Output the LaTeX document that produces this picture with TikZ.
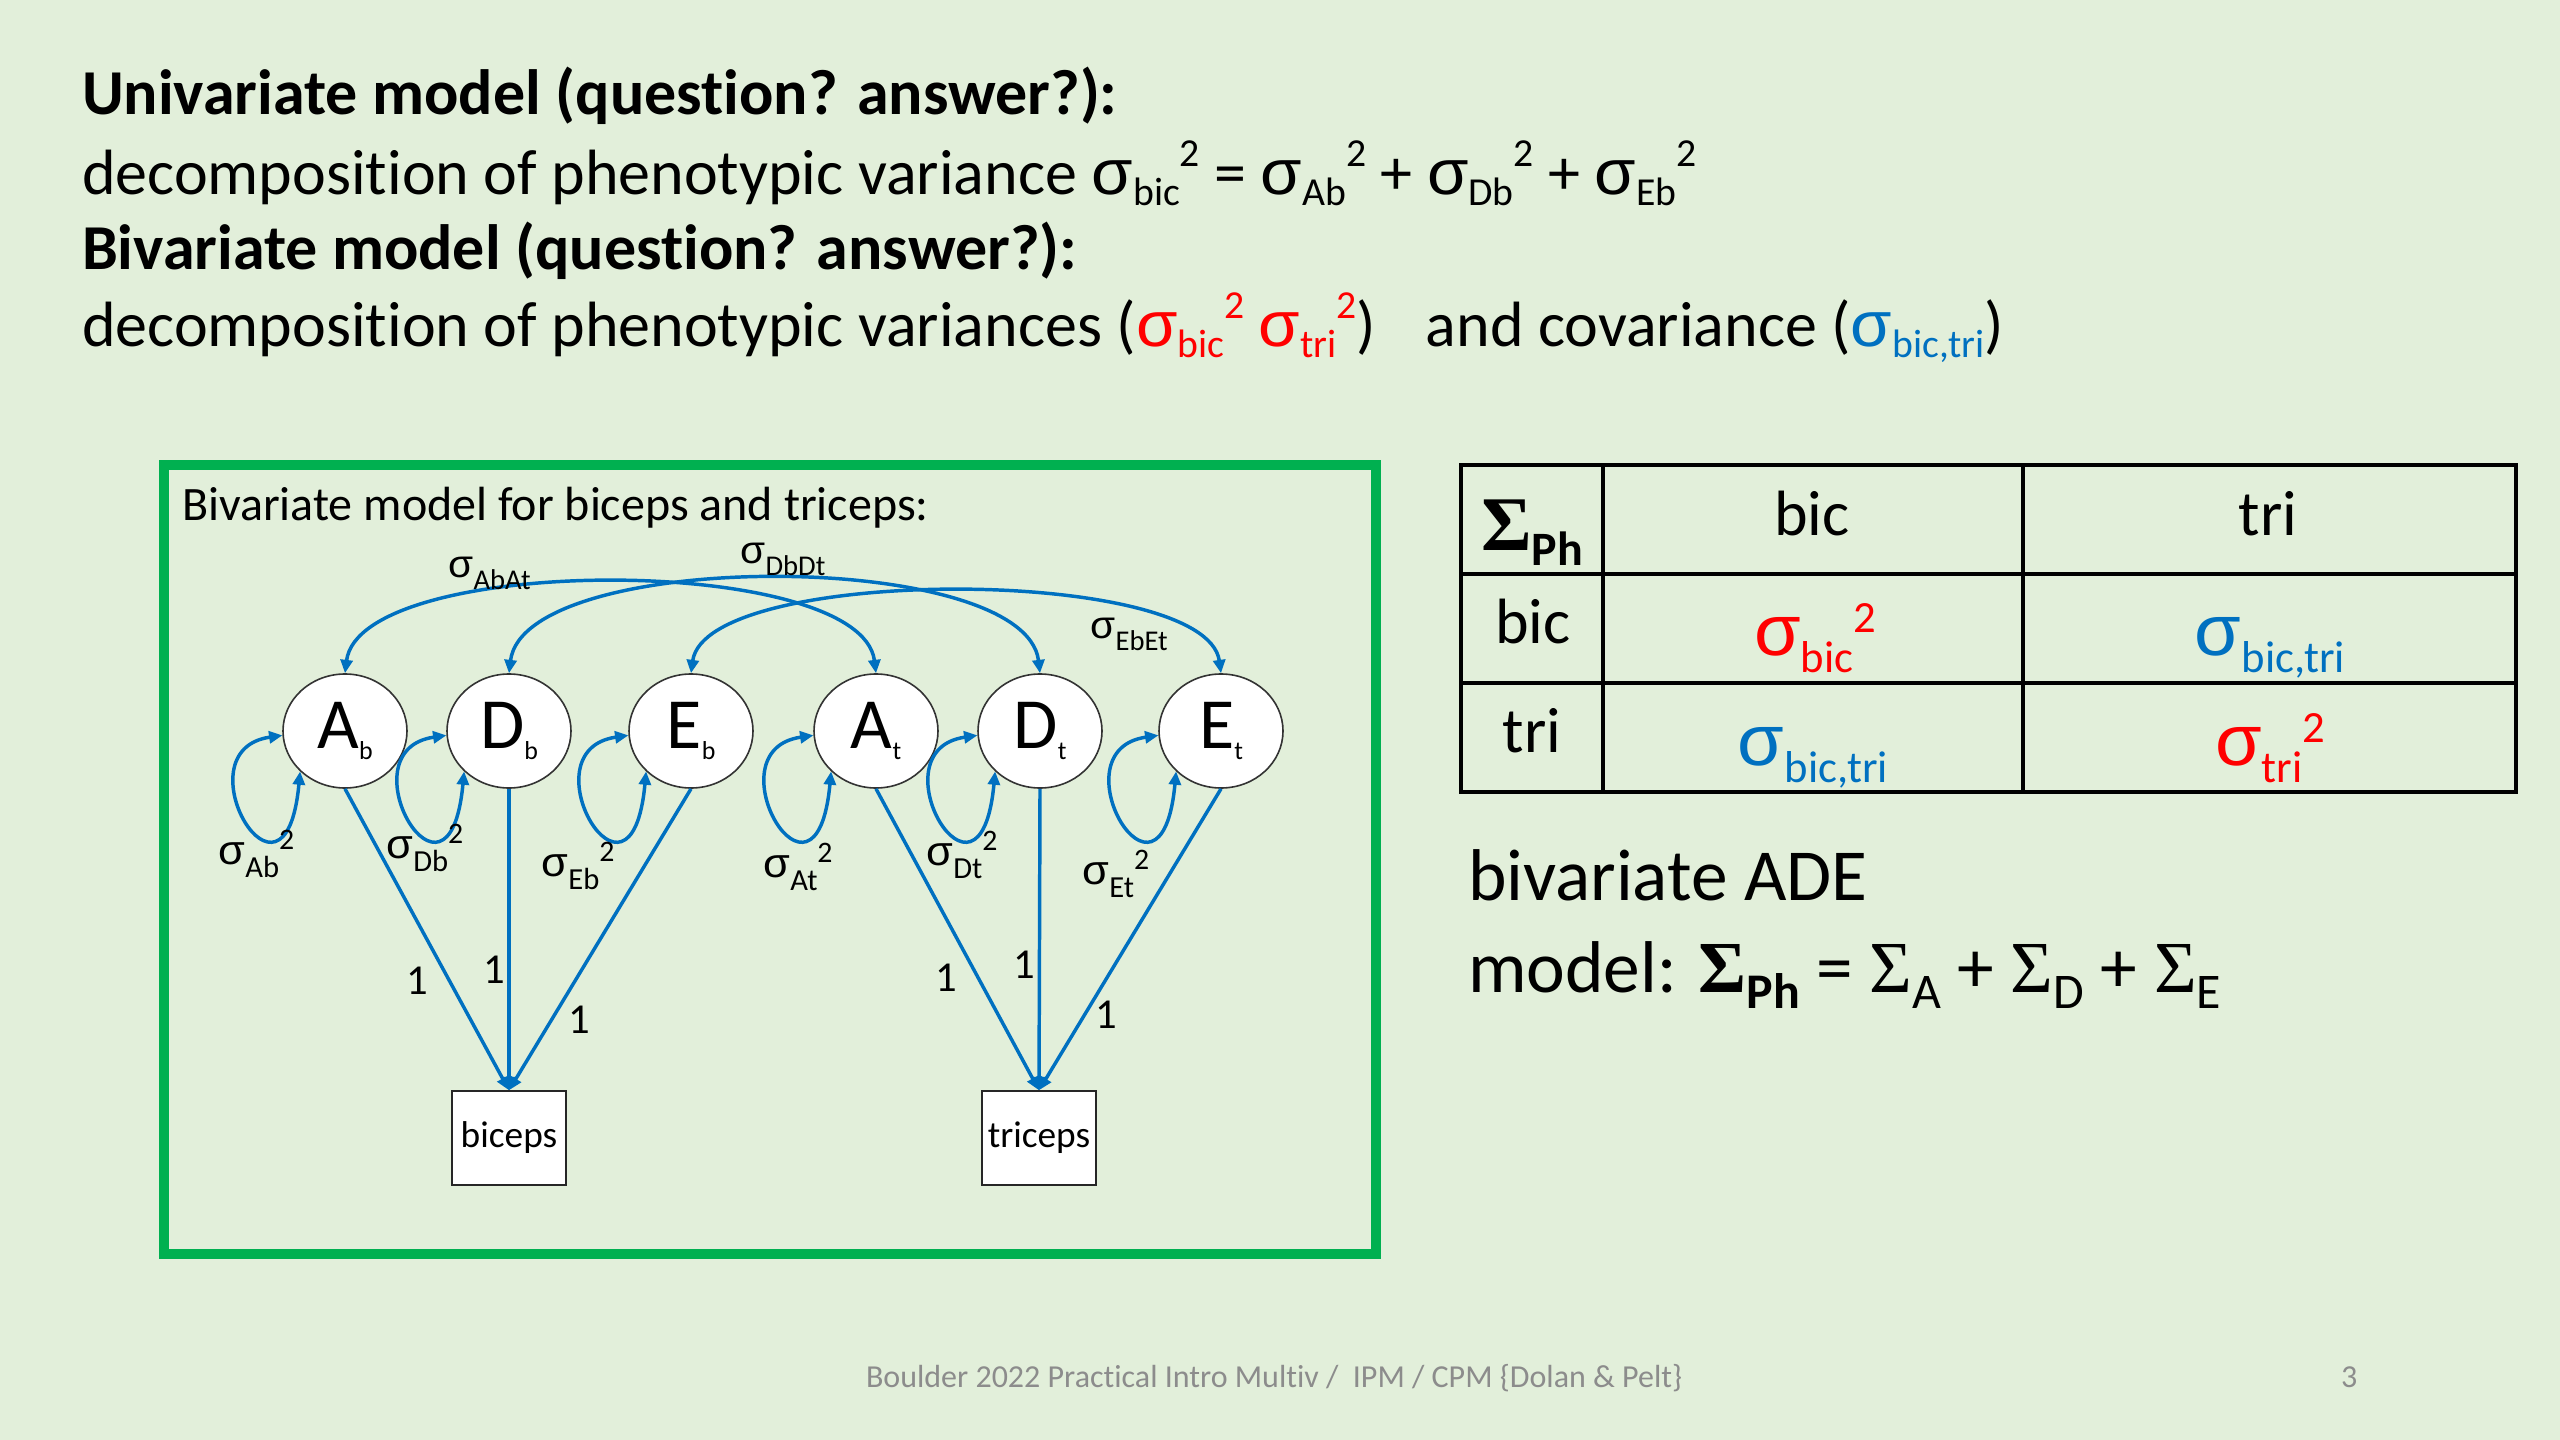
\documentclass[tikz,border=0pt]{standalone}
\usepackage{fontspec}
\setmainfont{Carlito}[Ligatures=NoCommon]
\newfontfamily\sigfont{Liberation Sans}
\newfontfamily\Sigfont{Liberation Serif}
\usetikzlibrary{shapes.geometric,arrows.meta}
\definecolor{bgc}{HTML}{E2EFDA}
\definecolor{framec}{HTML}{00B050}
\definecolor{pblue}{HTML}{0070C0}
\definecolor{pred}{HTML}{FF0000}
\definecolor{footc}{HTML}{8C8C8C}
\newcommand\fsz[1]{\fontsize{#1}{#1}\selectfont}
\newcommand\sig{\scalebox{1.05}[1]{{\sigfont σ}}}
\newcommand\Sig{{\Sigfont Σ}}
\newcommand\lo[2][0.16em]{\raisebox{-#1}{\scalebox{0.62}{#2}}}
\newcommand\hi[2][0.44em]{\raisebox{#1}{\scalebox{0.62}{#2}}}
\newcommand\slo[1]{\raisebox{-0.23em}{\scalebox{0.68}{#1}}}
\newcommand\nsub[1]{\raisebox{-0.14em}{\scalebox{0.36}{#1}}}
\newcommand\lsub[1]{\raisebox{-0.32em}{\scalebox{0.74}{#1}}}
\newcommand\lsup[1]{\raisebox{0.36em}{\scalebox{0.72}{#1}}}
\begin{document}
\begin{tikzpicture}[x=0.375pt,y=-0.375pt,
  txt/.style={anchor=base west, inner sep=0pt, outer sep=0pt},
  ctxt/.style={anchor=base, inner sep=0pt, outer sep=0pt},
  lat/.style={ellipse, draw=black!80, line width=0.6pt, fill=white,
    minimum width=46.5pt, minimum height=42.75pt, inner sep=0pt, font=\fsz{27}},
  obs/.style={rectangle, draw=black!85, line width=0.8pt, fill=white,
    minimum width=43pt, minimum height=35pt, inner sep=0pt, font=\fsz{14}},
  onearrow/.style={draw=pblue, line width=1.3pt, -{Triangle[length=5pt,width=4.5pt]}},
  twoarrow/.style={draw=pblue, line width=1.3pt,
    {Triangle[length=5pt,width=4.5pt]}-{Triangle[length=5pt,width=4.5pt]}},
  looplbl/.style={anchor=base west, inner sep=0pt, font=\fsz{15.5}},
  arclbl/.style={anchor=base west, inner sep=0pt, font=\fsz{14.5}},
  onelbl/.style={inner sep=0pt, font=\fsz{16}},
]
\fill[bgc] (0,0) rectangle (2560,1440);
\useasboundingbox (0,0) rectangle (2560,1440);

% top text
\node[txt, font=\fsz{24}\bfseries] (l1) at (82,115) {Univariate model (question? answer?):};
\node[txt, font=\fsz{24}] (l2) at (82,195) {decomposition of phenotypic variance \sig\lo{bic}\hi{2} = \sig\lo{Ab}\hi{2} + \sig\lo{Db}\hi{2} + \sig\lo{Eb}\hi{2}};
\node[txt, font=\fsz{24}\bfseries] (l3) at (82,270) {Bivariate model (question? answer?):};
\node[txt, font=\fsz{24}] (l4) at (82,347) {decomposition of phenotypic variances (\textcolor{pred}{\sig\lo{bic}\hi{2} \sig\lo{tri}\hi{2}})\hspace{0.55em} and covariance (\textcolor{pblue}{\sig\lo{bic,tri}})};

% green frame
\draw[framec, line width=3.5pt] (164,465) rectangle (1376,1254);
\node[txt, font=\fsz{18}] (title) at (182,520) {Bivariate model for biceps and triceps:};

% latent nodes
\node[lat] (Ab) at (345,731) {A\nsub{b}};
\node[lat] (Db) at (509,731) {D\nsub{b}};
\node[lat] (Eb) at (691,731) {E\nsub{b}};
\node[lat] (At) at (876,731) {A\nsub{t}};
\node[lat] (Dt) at (1040,731) {D\nsub{t}};
\node[lat] (Et) at (1221,731) {E\nsub{t}};

% observed
\node[obs] (bic) at (509,1138) {biceps};
\node[obs] (tri) at (1039,1138) {triceps};

% loops
\foreach \n in {Ab,Db,Eb,At,Dt,Et}{
  \draw[twoarrow] (\n.184) .. controls +(-105,15) and +(-15,162) .. (\n.222);
}

% covariance arcs
\draw[twoarrow] (Ab.north) .. controls +(15,-120) and +(-15,-120) .. (At.north);
\draw[twoarrow] (Db.north) .. controls +(15,-125) and +(-15,-125) .. (Dt.north);
\draw[twoarrow] (Eb.north) .. controls +(15,-108) and +(-15,-108) .. (Et.north);

% loadings
\draw[onearrow] (Ab.south) -- (bic.north);
\draw[onearrow] (Db.south) -- (bic.north);
\draw[onearrow] (Eb.south) -- (bic.north);
\draw[onearrow] (At.south) -- (tri.north);
\draw[onearrow] (Dt.south) -- (tri.north);
\draw[onearrow] (Et.south) -- (tri.north);

% loop labels
\node[looplbl] (sAb) at (218,864) {\sig\lsub{Ab}\lsup{2}};
\node[looplbl] (sDb) at (386,858) {\sig\lsub{Db}\lsup{2}};
\node[looplbl] (sEb) at (541,876) {\sig\lsub{Eb}\lsup{2}};
\node[looplbl] (sAt) at (763,877) {\sig\lsub{At}\lsup{2}};
\node[looplbl] (sDt) at (926,865) {\sig\lsub{Dt}\lsup{2}};
\node[looplbl] (sEt) at (1082,884) {\sig\lsub{Et}\lsup{2}};

% arc labels
\node[arclbl] (sAA) at (448,577) {\sig\lsub{AbAt}};
\node[arclbl] (sDD) at (740,563) {\sig\lsub{DbDt}};
\node[arclbl] (sEE) at (1090,638) {\sig\lsub{EbEt}};

% loading labels
\node[onelbl] (o1) at (417,981) {1};
\node[onelbl] (o2) at (494,970) {1};
\node[onelbl] (o3) at (579,1020) {1};
\node[onelbl] (o4) at (946,978) {1};
\node[onelbl] (o5) at (1024,965) {1};
\node[onelbl] (o6) at (1106,1015) {1};

% table
\draw[black, line width=1.2pt] (1461,465) rectangle (2516,792);
\draw[black, line width=1.2pt] (1603,465) -- (1603,792);
\draw[black, line width=1.2pt] (2023,465) -- (2023,792);
\draw[black, line width=1.2pt] (1461,574) -- (2516,574);
\draw[black, line width=1.2pt] (1461,683) -- (2516,683);

\node[ctxt, font=\fsz{29}\bfseries] (tS) at (1532,550) {\Sig\lo[0.2em]{Ph}};
\node[ctxt, font=\fsz{24}] (th1) at (1812,535) {bic};
\node[ctxt, font=\fsz{24}] (th2) at (2268,535) {tri};
\node[ctxt, font=\fsz{24}] (tr1) at (1533,643) {bic};
\node[ctxt, font=\fsz{24}] (tr2) at (1532,752) {tri};
\node[ctxt, font=\fsz{27}, text=pred] (c11) at (1815,655) {\sig\lo[0.24em]{bic}\hi[0.31em]{2}};
\node[ctxt, font=\fsz{27}, text=pblue] (c12) at (2270,655) {\sig\lo[0.24em]{bic,tri}};
\node[ctxt, font=\fsz{27}, text=pblue] (c21) at (1813,765) {\sig\lo[0.24em]{bic,tri}};
\node[ctxt, font=\fsz{27}, text=pred] (c22) at (2270,765) {\sig\lo[0.24em]{tri}\hi[0.31em]{2}};

% model text
\node[txt, font=\fsz{27.5}] (m1) at (1468,900) {bivariate ADE};
\node[txt, font=\fsz{27.5}] (m2) at (1468,992) {model: \textbf{\Sig\slo{Ph}} = \Sig\slo{A} + \Sig\slo{D} + \Sig\slo{E}};

% footer
\node[txt, font=\fsz{12}, text=footc] (foot) at (866,1387) {Boulder 2022 Practical Intro Multiv /\ \ IPM / CPM \{Dolan \& Pelt\}};
\node[txt, font=\fsz{12}, text=footc] (pnum) at (2341,1387) {3};
\end{tikzpicture}
\end{document}
